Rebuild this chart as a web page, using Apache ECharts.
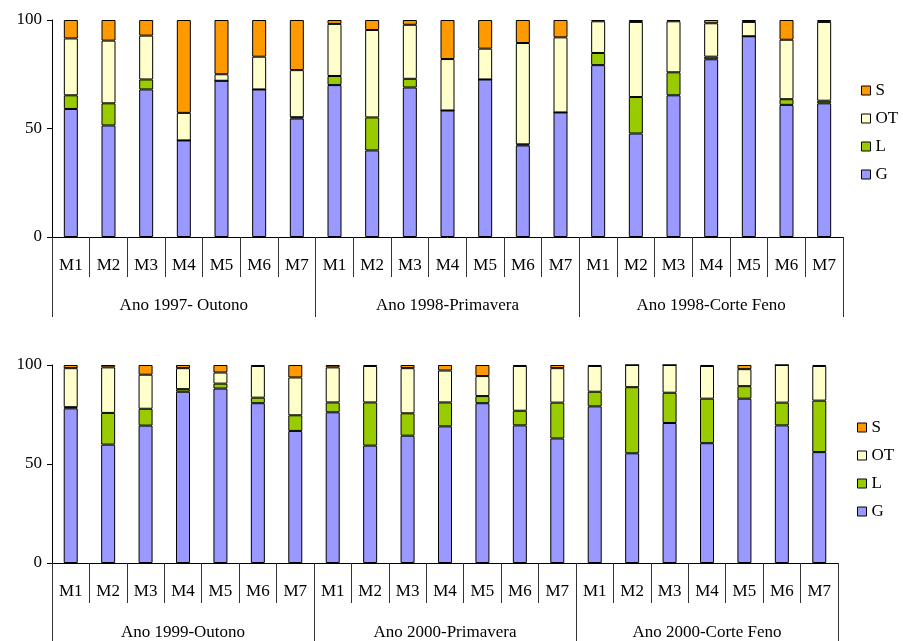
<!DOCTYPE html>
<html>
<head>
<meta charset="utf-8">
<script src="https://cdn.jsdelivr.net/npm/echarts@6/dist/echarts.min.js"></script>
<style>
html,body{margin:0;padding:0;background:#fff;}
#chart{width:903px;height:641px;}
</style>
</head>
<body>
<div id="chart"></div>
<script>
var categories = ['M1','M2','M3','M4','M5','M6','M7','M1','M2','M3','M4','M5','M6','M7','M1','M2','M3','M4','M5','M6','M7'];
var groupsTop = ['Ano 1997- Outono','Ano 1998-Primavera','Ano 1998-Corte Feno'];
var groupsBottom = ['Ano 1999-Outono','Ano 2000-Primavera','Ano 2000-Corte Feno'];
var yTicks = [0, 50, 100];
var legendNames = ['S','OT','L','G'];

var topG  = [59,51.4,68,44.5,72,68,54.6, 70,39.9,68.9,58.3,72.6,42.2,57.4, 79.2,47.7,65.3,81.9,92.5,60.9,61.6];
var topL  = [6.3,10.2,4.6,0,0,0,0.6, 4.2,15.2,4,0,0,0.5,0, 5.6,16.8,10.6,1.2,0,2.6,1.2];
var topOT = [26.2,28.9,20.2,12.7,3,15.1,21.7, 24,40.3,24.9,23.7,14.2,46.7,34.6, 14.6,34.6,23.5,15.4,6.6,27.4,36.3];
var topS  = [8.5,9.5,7.2,42.8,25,16.9,23.1, 1.8,4.6,2.2,18,13.2,10.6,8, 0.6,0.9,0.6,1.5,0.9,9.1,0.9];

var botG  = [78.1,59.8,69.4,86.5,88.1,80.7,66.7, 76.1,59.3,64.3,69,80.7,69.5,62.9, 79.1,55.4,70.7,60.5,83,69.5,56];
var botL  = [0.6,16,8.5,1.3,2.5,2.8,7.9, 5,21.8,11.3,12.1,3.6,7.4,18.1, 7.4,33.4,15.3,22.5,6.3,11.5,26];
var botOT = [19.7,23,17.2,10.6,5.6,16,19.1, 17.7,18.4,22.8,16.1,10.1,22.6,17.4, 13,11.2,14,16.5,8.6,19,17.5];
var botS  = [1.6,1.2,4.9,1.6,3.8,0.5,6.3, 1.2,0.5,1.6,2.8,5.6,0.5,1.6, 0.5,0,0,0.5,2.1,0,0.5];

var colors = {G:'#9999FF', L:'#99CC00', OT:'#FFFFCC', S:'#FF9900'};
var FONT = 'Liberation Serif';
var FS = 17;

var chart = echarts.init(document.getElementById('chart'), null, {renderer:'canvas'});

function catAxis(gridIndex, data, offset, tickLen, margin, showLine) {
  return {
    type:'category', gridIndex:gridIndex, data:data, position:'bottom', offset:offset,
    boundaryGap:true,
    axisLine:{show:showLine, lineStyle:{color:'#000', width:1}},
    axisTick:{show:true, interval:0, length:tickLen, inside:false, alignWithLabel:false, lineStyle:{color:'#333', width:1}},
    axisLabel:{interval:0, margin:margin, color:'#000', fontFamily:FONT, fontSize:FS},
    splitLine:{show:false}
  };
}
function valAxis(gridIndex) {
  return {
    type:'value', gridIndex:gridIndex, min:0, max:100, interval:50,
    axisLine:{show:true, lineStyle:{color:'#000', width:1}},
    axisTick:{show:true, length:5, lineStyle:{color:'#000'}},
    axisLabel:{margin:10, color:'#000', fontFamily:FONT, fontSize:FS,
      formatter:function(v){ return yTicks.indexOf(v) >= 0 ? String(v) : ''; }},
    splitLine:{show:false}
  };
}
function mkSeries(name, data, xi, yi, stack) {
  return {
    name:name, type:'bar', stack:stack, xAxisIndex:xi, yAxisIndex:yi, data:data,
    barWidth:14, itemStyle:{color:colors[name], borderColor:'#000', borderWidth:1},
    emphasis:{disabled:true}, animation:false
  };
}
function legend(top, left) {
  return {
    orient:'vertical', top:top, left:left, data:legendNames, icon:'rect',
    itemWidth:9, itemHeight:9, itemGap:11,
    itemStyle:{borderColor:'#000', borderWidth:1},
    textStyle:{color:'#000', fontFamily:FONT, fontSize:FS}, selectedMode:false
  };
}

chart.setOption({
  animation:false,
  backgroundColor:'#fff',
  grid:[
    {left:52, top:20, width:791, height:217},
    {left:52, top:365, width:786, height:202}
  ],
  xAxis:[
    catAxis(0, categories, 0, 40, 20, true),
    catAxis(0, groupsTop, 40, 40, 20, false),
    catAxis(1, categories, 0, 40, 20, true),
    catAxis(1, groupsBottom, 40, 40, 21, false)
  ],
  yAxis:[valAxis(0), valAxis(1)],
  legend:[legend(77, 856), legend(414, 852)],
  series:[
    mkSeries('G', topG, 0, 0, 'top'),
    mkSeries('L', topL, 0, 0, 'top'),
    mkSeries('OT', topOT, 0, 0, 'top'),
    mkSeries('S', topS, 0, 0, 'top'),
    mkSeries('G', botG, 2, 1, 'bot'),
    mkSeries('L', botL, 2, 1, 'bot'),
    mkSeries('OT', botOT, 2, 1, 'bot'),
    mkSeries('S', botS, 2, 1, 'bot')
  ]
});
</script>
</body>
</html>
